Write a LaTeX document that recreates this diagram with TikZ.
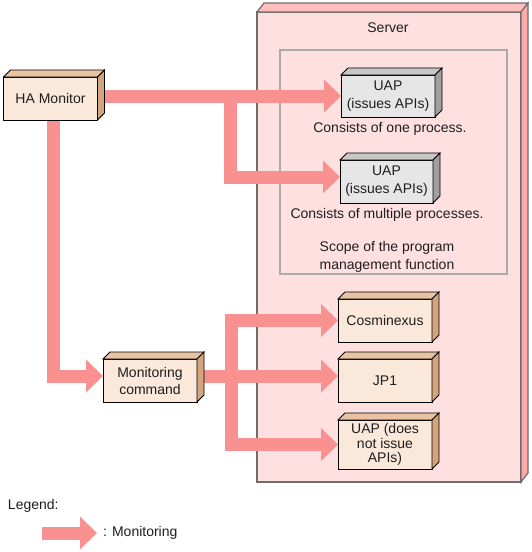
\documentclass[tikz,border=0pt]{standalone}
\usepackage{fontspec}
\setmainfont{Liberation Sans}
\usetikzlibrary{arrows.meta,calc}
\pgfdeclarelayer{srvlayer}
\pgfdeclarelayer{connlayer}
\pgfsetlayers{srvlayer,connlayer,main}
\definecolor{arrowc}{RGB}{250,145,145}
\definecolor{srvfront}{RGB}{255,224,225}
\definecolor{srvtop}{RGB}{255,190,190}
\definecolor{srvside}{RGB}{255,170,170}
\definecolor{srvline}{RGB}{110,110,110}
\definecolor{scopec}{RGB}{170,170,170}
\definecolor{bgfront}{RGB}{250,232,218}
\definecolor{bgtop}{RGB}{232,196,162}
\definecolor{bgside}{RGB}{212,164,124}
\definecolor{gyfront}{RGB}{230,230,230}
\definecolor{gytop}{RGB}{200,200,200}
\definecolor{gyside}{RGB}{160,160,160}
\definecolor{txtc}{RGB}{30,30,30}
\newcommand{\cubefaces}[6]{%
  \draw[#6, fill=#4] (#1.north west) -- ++(#2,-#3) -- ($(#1.north east)+(#2,-#3)$) -- (#1.north east) -- cycle;
  \draw[#6, fill=#5] (#1.north east) -- ++(#2,-#3) -- ($(#1.south east)+(#2,-#3)$) -- (#1.south east) -- cycle;
}
\begin{document}
\begin{tikzpicture}[x=1pt,y=-1pt,
  font=\fontsize{14}{17}\selectfont, text=txtc,
  every node/.style={inner sep=0pt, outer sep=0pt},
  boxline/.style={draw=black, line width=0.8pt, line join=miter},
  srvline/.style={draw=srvline, line width=1.2pt},
  cube/.style={boxline, minimum width=94pt, minimum height=43pt, align=center, fill=bgfront},
  graycube/.style={cube, fill=gyfront},
  mon/.style={draw=arrowc, line width=13pt, -{Triangle[width=33pt,length=17pt,line width=0pt]}},
  plain/.style={align=center}
]
\useasboundingbox (0,0) rectangle (532,552);

% Server and scope (bottom layer)
\begin{pgfonlayer}{srvlayer}
\node[srvline, fill=srvfront, minimum width=264pt, minimum height=470pt] (server) at (389,247) {};
\cubefaces{server}{7}{9}{srvtop}{srvside}{srvline}
\node (serverlabel) at (388,28) {Server};
\node[draw=scopec, line width=1.6pt, minimum width=227pt, minimum height=224pt] (scope) at (393.5,162) {};
\node[plain, font=\fontsize{14}{18}\selectfont] (scopelabel) at (387,257) {Scope of the program\\management function};
\end{pgfonlayer}

% Program boxes
\node[cube] (ha) at (50.5,98.5) {HA Monitor};
\node[graycube, minimum height=42pt, font=\fontsize{14}{18}\selectfont] (uap1) at (388,96) {UAP\\(issues APIs)};
\node[graycube, minimum width=93pt, font=\fontsize{14}{18}\selectfont] (uap2) at (386.5,181.5) {UAP\\(issues APIs)};
\node[cube] (mc) at (150,380.5) {Monitoring\\command};
\node[cube] (cos) at (385,320.5) {Cosminexus};
\node[cube] (jp1) at (385,380.5) {JP1};
\node[cube, minimum height=49pt, font=\fontsize{14}{14.8}\selectfont] (uap3) at (385,444.5) {UAP (does\\not issue\\APIs)};
\foreach \n/\t/\s in {ha/bgtop/bgside, mc/bgtop/bgside, cos/bgtop/bgside, jp1/bgtop/bgside, uap3/bgtop/bgside, uap1/gytop/gyside, uap2/gytop/gyside}{
  \cubefaces{\n}{7}{7}{\t}{\s}{boxline}
}

% Captions
\node (cap1) at (390,129) {Consists of one process.};
\node (cap2) at (387,215) {Consists of multiple processes.};

% Connectors (under the boxes)
\coordinate (j1) at (230.5,96);
\coordinate (j2) at (231,376);
\begin{pgfonlayer}{connlayer}
\draw[mon] (ha.east |- uap1.west) -- (uap1.west);
\draw[mon] (j1) |- ([yshift=4.5pt]uap2.west);
\draw[mon] ([xshift=3pt]ha.south) |- ([yshift=4.5pt]mc.west);
\draw[mon] ([yshift=4.5pt]mc.east) -- ([yshift=4.5pt]jp1.west);
\draw[mon] (j2) |- (cos.west);
\draw[mon] (j2) |- (uap3.west);
\end{pgfonlayer}

% Legend
\node[anchor=west] (legend) at (8,506) {Legend:};
\coordinate (lg1) at (42,533);
\coordinate (lg2) at (97,533);
\draw[mon] (lg1) -- (lg2);
\node[anchor=west] (legendtext) at (103,533) {: Monitoring};
\end{tikzpicture}
\end{document}
